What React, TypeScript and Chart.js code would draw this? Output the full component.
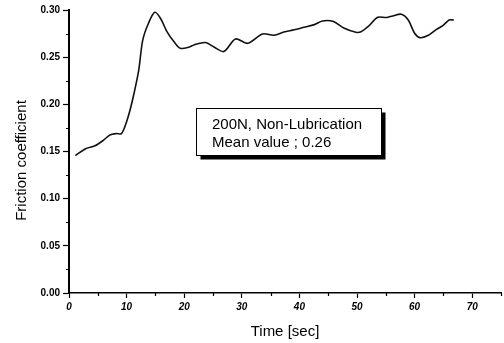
import React, { useEffect, useRef } from "react";
import { Chart, registerables } from "chart.js";

Chart.register(...registerables);

const timeSec = [1.1, 2.8, 4.5, 6.0, 7.1, 8.2, 9.1, 9.8, 10.6, 11.3, 12.1, 12.8, 13.8, 14.9, 15.9, 17.0, 18.2, 19.3, 20.8, 21.7, 23.7, 25.1, 26.9, 28.9, 31.0, 33.6, 35.6, 37.3, 39.1, 40.8, 42.6, 44.0, 45.8, 47.8, 49.8, 50.7, 51.9, 53.6, 55.1, 56.2, 57.7, 58.9, 60.0, 60.9, 62.3, 63.8, 64.9, 66.0, 66.8];
const friction = [0.1456, 0.1527, 0.156, 0.162, 0.1675, 0.169, 0.169, 0.178, 0.194, 0.212, 0.236, 0.268, 0.286, 0.2975, 0.291, 0.277, 0.2665, 0.2594, 0.2605, 0.263, 0.2655, 0.261, 0.256, 0.2693, 0.2647, 0.2746, 0.2732, 0.2767, 0.279, 0.2817, 0.2845, 0.2884, 0.288, 0.2806, 0.2764, 0.277, 0.2823, 0.2923, 0.292, 0.2937, 0.2955, 0.2894, 0.2753, 0.2707, 0.2729, 0.2795, 0.2834, 0.2894, 0.2894];
const xTickValues = [0, 10, 20, 30, 40, 50, 60, 70];
const yTickValues = [0, 0.05, 0.1, 0.15, 0.2, 0.25, 0.3];
const xMinorTicks = [5, 15, 25, 35, 45, 55, 65, 75];
const yMinorTicks = [0.025, 0.075, 0.125, 0.175, 0.225, 0.275];
const noteLines = ["200N, Non-Lubrication", "Mean value ; 0.26"];
const noteAnchor = { x: 22.1, y: 0.196 };
const xTitle = "Time [sec]";
const yTitle = "Friction coefficient";

const FONT = "'Liberation Sans', Arial, sans-serif";

const minorTicksPlugin = {
  id: "minorTicks",
  afterDraw(chart: any) {
    const { ctx, scales } = chart;
    const xs = scales.x;
    const ys = scales.y;
    ctx.save();
    ctx.strokeStyle = "#000";
    ctx.lineWidth = 1.2;
    ctx.beginPath();
    for (const v of xMinorTicks) {
      const px = Math.round(xs.getPixelForValue(v)) + 0.5;
      ctx.moveTo(px, ys.bottom);
      ctx.lineTo(px, ys.bottom + 3);
    }
    for (const v of yMinorTicks) {
      const py = Math.round(ys.getPixelForValue(v)) + 0.5;
      ctx.moveTo(xs.left, py);
      ctx.lineTo(xs.left - 3, py);
    }
    ctx.stroke();
    ctx.restore();
  },
};

const yTitlePlugin = {
  id: "yTitle",
  afterDraw(chart: any) {
    const { ctx, chartArea } = chart;
    ctx.save();
    ctx.translate(chartArea.left - 47, (chartArea.top + chartArea.bottom) / 2 + 9);
    ctx.rotate(-Math.PI / 2);
    ctx.fillStyle = "#000";
    ctx.font = `15px ${FONT}`;
    ctx.textAlign = "center";
    ctx.textBaseline = "middle";
    ctx.fillText(yTitle, 0, 0);
    ctx.restore();
  },
};

const notePlugin = {
  id: "noteBox",
  afterDatasetsDraw(chart: any) {
    const { ctx, scales } = chart;
    const left = Math.round(scales.x.getPixelForValue(noteAnchor.x)) + 0.5;
    const top = Math.round(scales.y.getPixelForValue(noteAnchor.y)) + 0.5;
    const w = 185;
    const h = 47;
    ctx.save();
    ctx.fillStyle = "#000";
    ctx.fillRect(left + 4, top + 4, w, h);
    ctx.fillStyle = "#fff";
    ctx.fillRect(left, top, w, h);
    ctx.strokeStyle = "#000";
    ctx.lineWidth = 1;
    ctx.strokeRect(left, top, w, h);
    ctx.fillStyle = "#000";
    ctx.font = `15px ${FONT}`;
    ctx.textBaseline = "alphabetic";
    ctx.fillText(noteLines[0], left + 15.5, top + 20.5);
    ctx.fillText(noteLines[1], left + 15.5, top + 38.5);
    ctx.restore();
  },
};

export default function App() {
  const canvasRef = useRef<HTMLCanvasElement | null>(null);

  useEffect(() => {
    document.body.style.margin = "0";
    const canvas = canvasRef.current;
    if (!canvas) return;
    const points = timeSec.map((t, i) => ({ x: t, y: friction[i] }));
    const chart = new Chart(canvas, {
      type: "line",
      data: {
        datasets: [
          {
            data: points,
            borderColor: "#111",
            borderWidth: 1.6,
            pointRadius: 0,
            tension: 0.3,
            fill: false,
          },
        ],
      },
      options: {
        animation: false,
        responsive: false,
        events: [],
        layout: { padding: { top: 10, right: 3, left: 0, bottom: 0 } },
        plugins: { legend: { display: false }, tooltip: { enabled: false } },
        scales: {
          x: {
            type: "linear",
            min: 0,
            max: 75,
            afterFit: (s: any) => {
              s.height = 50;
            },
            afterBuildTicks: (s: any) => {
              s.ticks = xTickValues.map((v) => ({ value: v }));
            },
            ticks: {
              color: "#000",
              font: { family: FONT, size: 10, weight: "bold", style: "italic" },
              padding: 3,
              maxRotation: 0,
              callback: (v: any) => String(v),
            },
            grid: {
              drawOnChartArea: false,
              drawTicks: true,
              tickLength: 5,
              tickWidth: 1.2,
              tickColor: "#000",
            },
            border: { display: true, color: "#000", width: 1.6 },
            title: {
              display: true,
              text: xTitle,
              color: "#000",
              font: { family: FONT, size: 15 },
              padding: { top: 0, bottom: 2 },
            },
          },
          y: {
            type: "linear",
            min: 0,
            max: 0.3,
            afterFit: (s: any) => {
              s.width = 69;
            },
            afterBuildTicks: (s: any) => {
              s.ticks = yTickValues.map((v) => ({ value: v }));
            },
            ticks: {
              color: "#000",
              font: { family: FONT, size: 10, weight: "bold" },
              padding: 3,
              callback: (v: any) => Number(v).toFixed(2),
            },
            grid: {
              drawOnChartArea: false,
              drawTicks: true,
              tickLength: 6,
              tickWidth: 1.2,
              tickColor: "#000",
            },
            border: { display: true, color: "#000", width: 2 },
            title: { display: false, text: yTitle },
          },
        },
      },
      plugins: [minorTicksPlugin, notePlugin, yTitlePlugin],
    });
    return () => chart.destroy();
  }, []);

  return (
    <div style={{ position: "absolute", left: 0, top: 0, width: 504, height: 343, background: "#fff" }}>
      <canvas ref={canvasRef} width={504} height={343} />
    </div>
  );
}
